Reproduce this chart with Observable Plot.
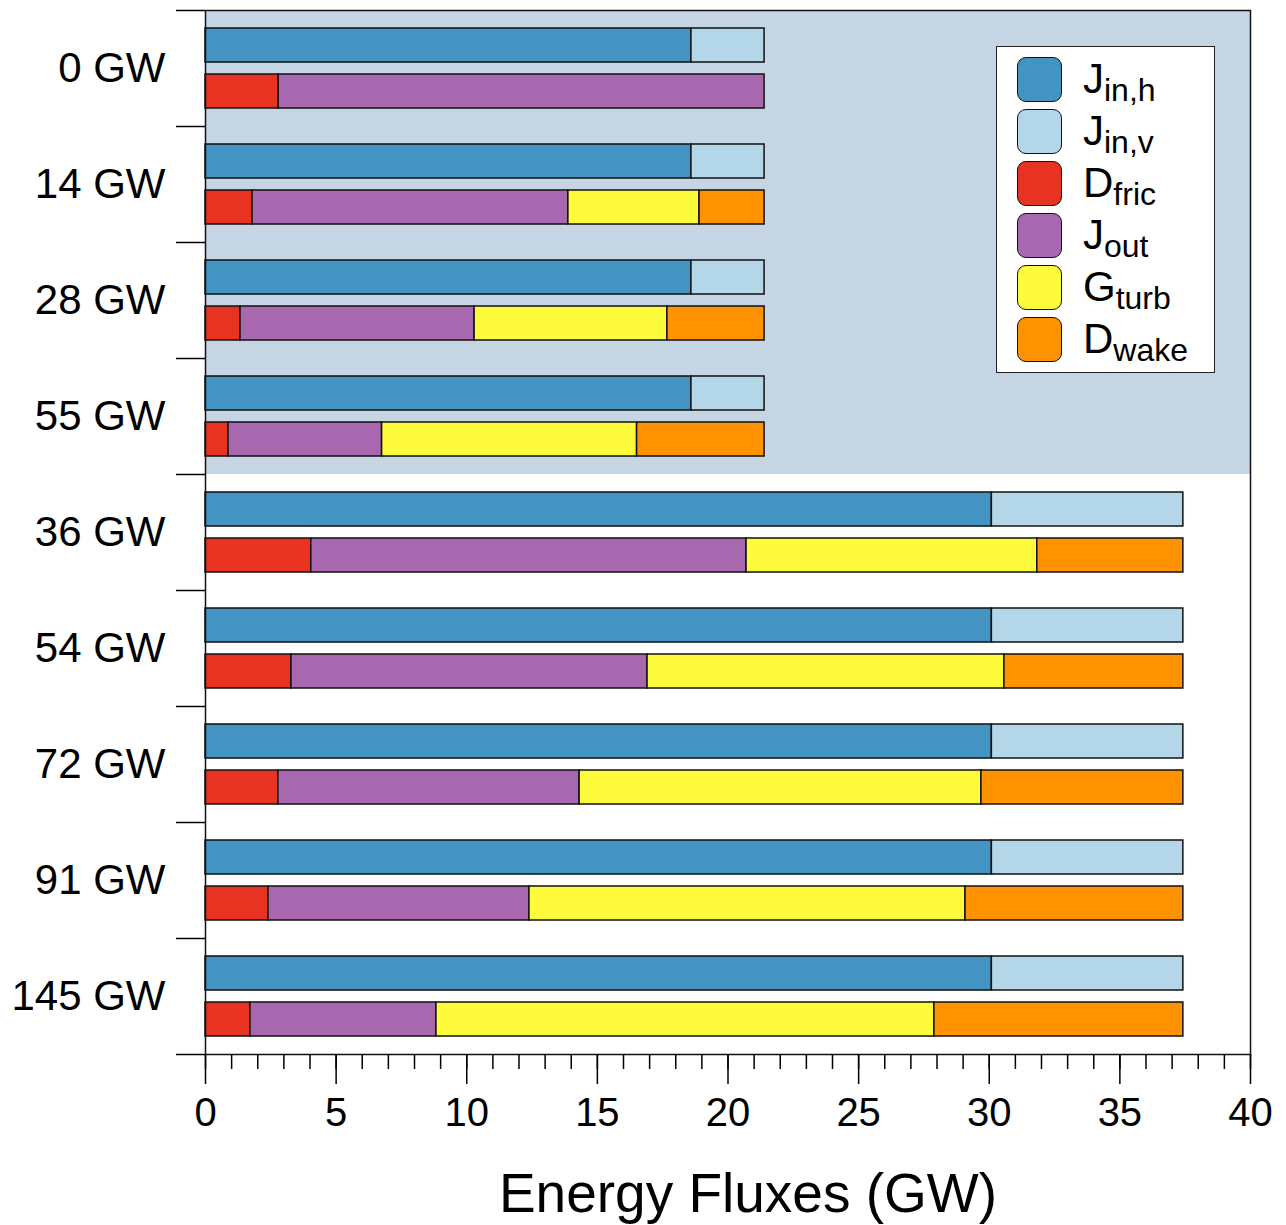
<!DOCTYPE html>
<html>
<head>
<meta charset="utf-8">
<script src="https://cdn.jsdelivr.net/npm/d3@7"></script>
<script src="https://cdn.jsdelivr.net/npm/@observablehq/plot@0.6"></script>
<style>
  body { margin: 0; background: #fff; }
  #wrap { position: relative; width: 1286px; height: 1225px; font-family: "Liberation Sans", Arial, sans-serif; }
  #legend { position: absolute; left: 996px; top: 46px; width: 219px; height: 327px; box-sizing: border-box; border: 1.5px solid #222; background: #fff; }
  .sw { position: absolute; left: 20px; width: 45px; height: 45px; box-sizing: border-box; border: 1.5px solid #111; border-radius: 9px; }
  .lb { position: absolute; left: 86px; font-size: 42px; line-height: 42px; color: #000; white-space: nowrap; }
  .lb span { font-size: 32px; line-height: 32px; position: relative; top: 8px; }
</style>
</head>
<body>
<div id="wrap"><div id="chart"></div><div id="legend"></div></div>
<script>
// Categories (turbine capacity per scenario)
const groups = ["0 GW", "14 GW", "28 GW", "55 GW", "36 GW", "54 GW", "72 GW", "91 GW", "145 GW"];
const shadedGroups = ["0 GW", "14 GW", "28 GW", "55 GW"];
// Series
const series = ["Jin,h", "Jin,v", "Dfric", "Jout", "Gturb", "Dwake"];
const seriesMain = ["J", "J", "D", "J", "G", "D"];
const seriesSub = ["in,h", "in,v", "fric", "out", "turb", "wake"];
const colors = ["#4393c3", "#b3d6e8", "#e83323", "#a868b0", "#fefb3d", "#fe9201"];
// Values (GW), segment widths
const jinH  = [18.6, 18.6, 18.6, 18.6, 30.1, 30.1, 30.1, 30.1, 30.1];
const jinV  = [2.8, 2.8, 2.8, 2.8, 7.33, 7.33, 7.33, 7.33, 7.33];
const dFric = [2.8, 1.8, 1.34, 0.88, 4.05, 3.29, 2.79, 2.41, 1.72];
const jOut  = [18.6, 12.09, 8.96, 5.88, 16.66, 13.63, 11.53, 9.99, 7.12];
const gTurb = [0, 5.02, 7.38, 9.76, 11.13, 13.66, 15.38, 16.69, 19.06];
const dWake = [0, 2.49, 3.72, 4.88, 5.59, 6.85, 7.73, 8.34, 9.53];
// Axis
const xDomain = [0, 40];
const xTicks = [0, 5, 10, 15, 20, 25, 30, 35, 40];
const xMinorTicks = d3.range(0, 41, 1);
const xLabel = "Energy Fluxes (GW)";

const topRows = groups.flatMap((g, i) => [
  {group: g, series: series[0], value: jinH[i]},
  {group: g, series: series[1], value: jinV[i]}
]);
const bottomRows = groups.flatMap((g, i) => [
  {group: g, series: series[2], value: dFric[i]},
  {group: g, series: series[3], value: jOut[i]},
  {group: g, series: series[4], value: gTurb[i]},
  {group: g, series: series[5], value: dWake[i]}
]).filter(d => d.value > 0);

const barStyle = {stroke: "#111", strokeWidth: 1.5};

const chart = Plot.plot({
  width: 1286,
  height: 1225,
  marginLeft: 205,
  marginRight: 36,
  marginTop: 10,
  marginBottom: 171,
  style: {fontFamily: "Liberation Sans, Arial, sans-serif", color: "#000", background: "#fff"},
  x: {domain: xDomain},
  y: {domain: groups, padding: 0},
  color: {domain: series, range: colors},
  marks: [
    Plot.barX(shadedGroups, {y: d => d, x1: () => xDomain[0], x2: () => xDomain[1], fill: "#c5d5e4"}),
    Plot.barX(topRows, Plot.stackX({x: "value", y: "group", fill: "series", insetTop: 18, insetBottom: 64, ...barStyle})),
    Plot.barX(bottomRows, Plot.stackX({x: "value", y: "group", fill: "series", insetTop: 64, insetBottom: 18, ...barStyle})),
    Plot.frame({stroke: "#111", strokeWidth: 1.5}),
    Plot.axisY({tickSize: 0, tickPadding: 40, fontSize: 42, label: null}),
    Plot.axisY({tickSize: 29, text: null, dy: -58, strokeWidth: 1.5, label: null}),
    Plot.axisY({ticks: [groups[groups.length - 1]], tickSize: 29, text: null, dy: 58, strokeWidth: 1.5, label: null}),
    Plot.axisX({ticks: xTicks, tickSize: 30, tickPadding: 13, fontSize: 40, strokeWidth: 1.5, tickFormat: d => String(d), label: null}),
    Plot.axisX({ticks: xMinorTicks, tickSize: 15, text: null, strokeWidth: 1.5, label: null}),
    Plot.text([xLabel], {text: d => d, frameAnchor: "bottom", dy: 140, dx: 20, fontSize: 55, lineAnchor: "middle"})
  ]
});
document.getElementById("chart").appendChild(chart);

const legend = document.getElementById("legend");
series.forEach((s, i) => {
  const top = 11 + 52 * i - 1.5;
  const sw = document.createElement("div");
  sw.className = "sw";
  sw.style.top = top + "px";
  sw.style.background = colors[i];
  legend.appendChild(sw);
  const lb = document.createElement("div");
  lb.className = "lb";
  lb.style.top = (top + 1.5) + "px";
  lb.appendChild(document.createTextNode(seriesMain[i]));
  const sub = document.createElement("span");
  sub.textContent = seriesSub[i];
  lb.appendChild(sub);
  legend.appendChild(lb);
});
</script>
</body>
</html>
